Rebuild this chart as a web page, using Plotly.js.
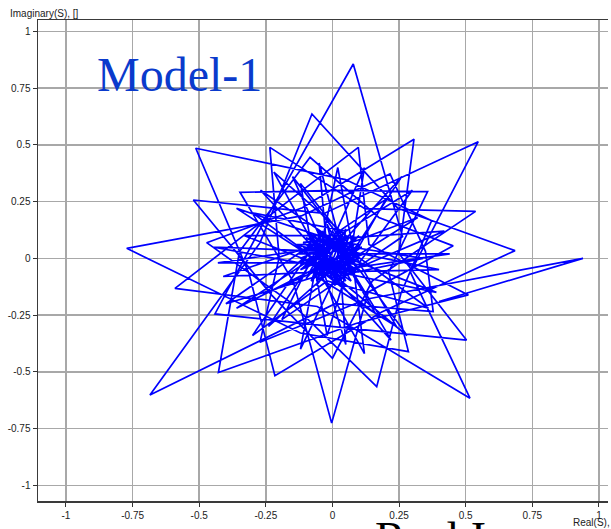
<!DOCTYPE html>
<html>
<head>
<meta charset="utf-8">
<script src="https://cdn.plot.ly/plotly-3.0.1.min.js"></script>
<style>html,body{margin:0;padding:0;background:#fff;}#chart{width:611px;height:529px;}</style>
</head>
<body>
<div id="chart"></div>
<script>
// Outer star spikes (tips alternating with inner turning points)
const spikeRe = [0.40, 0.94, 0.126, -0.272, -0.2, -0.235, 0.121, 0.537, 0.149, 0, -0.229, -0.522, -0.031, 0.547, 0.293, 0.516, -0.057, -0.591, -0.223, 0.097, 0.137, 0.51, 0.088, -0.428, -0.349, -0.084, 0.174, 0.453, 0.134, -0.003, -0.147, -0.347, 0.026, 0.357, 0.211, 0.285, -0.12, -0.772, -0.117, 0.216, 0.349, 0.378, 0.01, -0.685, -0.272, -0.077, 0.245, 0.685, 0.185, -0.216, -0.313, -0.513, 0.049, 0.372, 0.257, 0.166, -0.157, -0.472, -0.113, 0.306, 0.249, 0.503, -0.005, -0.441, -0.27, 0.078, 0.263];
const spikeIm = [-0.19, 0, -0.18, -0.37, 0.004, 0.489, 0.219, 0.207, -0.1, -0.44, -0.161, 0.257, 0.198, 0.514, -0.062, -0.616, -0.212, -0.132, 0.2, 0.489, 0.061, -0.161, -0.287, -0.503, 0.03, 0.445, 0.18, 0.055, -0.149, -0.726, -0.103, 0.291, 0.299, 0.294, -0.061, -0.411, -0.329, 0.044, 0.187, 0.372, 0.031, -0.235, -0.2, -0.602, 0.068, 0.636, 0.221, 0.034, -0.236, -0.517, -0.067, 0.485, 0.347, 0.166, -0.155, -0.565, -0.194, 0.069, 0.223, 0.525, 0.022, -0.36, -0.3, -0.245, 0.132, 0.856, 0.096];
// Middle rings
const ringRe = [-0.19, -0.06, -0.22, 0.06, 0.42, 0.08, 0.12, -0.05, -0.41, -0.04, 0.02, 0.08, 0.36, -0.02, -0.3, -0.09, -0.3, 0.05, 0.3, 0.1, 0.24, -0.06, -0.4, -0.08, -0.12, 0.07, 0.34, 0.05, -0.02, -0.07, -0.33, 0.0, 0.2, 0.06, 0.18, -0.05, -0.26, -0.05];
const ringIm = [-0.27, 0.04, 0.38, 0.09, 0.12, -0.05, -0.42, -0.06, -0.08, 0.07, 0.4, 0.02, -0.22, -0.1, -0.34, 0.02, 0.2, 0.12, 0.3, -0.02, -0.3, -0.08, -0.2, 0.06, 0.33, 0.05, 0.0, -0.07, -0.34, -0.02, 0.1, 0.1, 0.26, -0.03, -0.26, -0.05, -0.16, 0.06];
const ring2Re = [0.02, 0.28, -0.03, -0.45, -0.02, -0.05, 0.04, 0.44, 0.03, 0.05, -0.04, -0.36, -0.05, -0.27, 0.03, 0.26, 0.06, 0.39, 0.02, -0.12, -0.06, -0.43, -0.03, -0.15, 0.05, 0.32, 0.05, 0.22, -0.01, -0.24, -0.07, -0.36, 0.0, 0.12, 0.07, 0.4, 0.03];
const ring2Im = [0.08, -0.34, -0.04, 0.05, 0.03, 0.42, 0.02, 0.02, -0.05, -0.38, -0.03, -0.22, 0.02, 0.3, 0.06, 0.36, 0.0, -0.15, -0.06, -0.4, -0.02, -0.02, 0.05, 0.36, 0.06, 0.18, -0.02, -0.36, -0.06, -0.3, 0.0, 0.22, 0.08, 0.4, 0.03, -0.05, -0.06];
// Dense core
const coreRe = [-0.1, 0.06, 0.02, -0.04, -0.13, 0.03, 0.1, 0.0, 0.09, -0.03, -0.1, 0.0, -0.02, 0.04, 0.12, -0.01, -0.06, -0.03, -0.14, 0.02, 0.05, 0.03, 0.07, -0.04, -0.12, -0.01, -0.06, 0.04, 0.11, 0.01, 0.01, -0.04, -0.13, 0.0, 0.03, 0.04, 0.09, -0.02, -0.08, -0.03, -0.1, 0.03, 0.08, 0.02, 0.05, -0.05, -0.11, -0.01, -0.04, 0.05, 0.1, -0.01, -0.04, -0.03, -0.1, 0.01, 0.06, 0.03, 0.05, -0.03, -0.08, -0.01, -0.05, 0.03, 0.07, 0.0, -0.02, -0.02, -0.06, 0.01, 0.03, 0.02];
const coreIm = [0.12, 0.0, -0.11, 0.06, -0.02, 0.04, 0.1, -0.02, -0.08, 0.0, -0.09, 0.05, 0.15, 0.01, 0.02, -0.04, -0.12, 0.03, 0.06, 0.06, 0.13, -0.02, -0.1, -0.01, -0.05, 0.05, 0.13, 0.03, 0.05, -0.03, -0.12, 0.02, 0.02, 0.07, 0.12, -0.01, -0.05, -0.03, -0.1, 0.05, 0.09, 0.05, 0.08, -0.04, -0.1, 0.0, -0.04, 0.06, 0.12, 0.02, 0.0, -0.05, -0.09, 0.04, 0.04, 0.07, 0.1, -0.03, -0.07, -0.01, -0.06, 0.04, 0.09, 0.03, 0.02, -0.03, -0.07, 0.03, 0.02, 0.05, 0.07, 0.0];
const core2Re = [0.08, -0.07, 0.02, 0.11, -0.09, 0.0, 0.06, -0.11, 0.05, 0.09, -0.06, -0.02, 0.07, -0.08, 0.01, 0.08, -0.12, 0.04, 0.06, -0.05, -0.07, 0.1, 0.0, -0.09, 0.07, -0.03, 0.03, -0.1, 0.05, -0.02, -0.08, 0.09, -0.04, 0.02, 0.06, -0.11, 0.0, 0.04, -0.06, 0.1, -0.07, 0.03, -0.01];
const core2Im = [0.06, -0.08, 0.11, -0.03, 0.0, -0.09, 0.09, 0.07, -0.06, 0.04, -0.05, 0.1, -0.04, 0.05, -0.08, 0.1, 0.0, -0.09, 0.05, 0.11, -0.03, -0.06, 0.12, -0.07, 0.03, 0.08, -0.1, 0.02, 0.07, -0.06, 0.1, -0.01, -0.08, 0.09, -0.05, 0.05, -0.01, 0.11, -0.1, 0.06, 0.08, -0.07, 0.01];

const tickVals = [-1, -0.75, -0.5, -0.25, 0, 0.25, 0.5, 0.75, 1];
const tickText = ['-1', '-0.75', '-0.5', '-0.25', '0', '0.25', '0.5', '0.75', '1'];

const re = spikeRe.concat(ringRe, coreRe, ring2Re, core2Re);
const im = spikeIm.concat(ringIm, coreIm, ring2Im, core2Im);

const axisCommon = {
  tickmode: 'array', tickvals: tickVals, ticktext: tickText,
  showgrid: true, gridcolor: '#a8a8a8', gridwidth: 1.5,
  zeroline: false, showline: true, linecolor: '#3a3a3a', linewidth: 1.5,
  ticks: 'outside', ticklen: 4, tickwidth: 1, tickcolor: '#333',
  tickfont: {family: 'Liberation Sans, Arial, sans-serif', size: 10, color: '#222'}
};

const data = [{
  x: re, y: im, type: 'scatter', mode: 'lines',
  line: {color: '#0000ff', width: 1.7},
  hoverinfo: 'skip'
}];

const layout = {
  width: 611, height: 529,
  margin: {l: 38, r: 3, t: 20, b: 28},
  paper_bgcolor: '#ffffff', plot_bgcolor: '#ffffff',
  showlegend: false,
  xaxis: Object.assign({}, axisCommon, {range: [-1.105, 1.034], mirror: true}),
  yaxis: Object.assign({}, axisCommon, {range: [-1.069, 1.050], mirror: false}),
  annotations: [
    {text: 'Model-1', xref: 'paper', yref: 'paper', x: 0.1, y: 0.887, xanchor: 'left', yanchor: 'middle', showarrow: false,
     font: {family: 'Liberation Serif, Times New Roman, serif', size: 48, color: '#0a3acc'}},
    {text: 'Imaginary(S), []', xref: 'paper', yref: 'paper', x: -0.052, y: 1.0125, xanchor: 'left', yanchor: 'middle', showarrow: false,
     font: {family: 'Liberation Sans, Arial, sans-serif', size: 10, color: '#222'}},
    {text: 'Real(S), []', xref: 'paper', yref: 'paper', x: 0.935, y: -0.0457, xanchor: 'left', yanchor: 'middle', showarrow: false,
     font: {family: 'Liberation Sans, Arial, sans-serif', size: 10, color: '#222'}},
    {text: 'Real Imag', xref: 'paper', yref: 'paper', x: 0.588, y: -0.078, xanchor: 'left', yanchor: 'middle', showarrow: false,
     font: {family: 'Liberation Serif, Times New Roman, serif', size: 46, color: '#000'}}
  ]
};

Plotly.newPlot('chart', data, layout, {displayModeBar: false, staticPlot: true});
</script>
</body>
</html>
